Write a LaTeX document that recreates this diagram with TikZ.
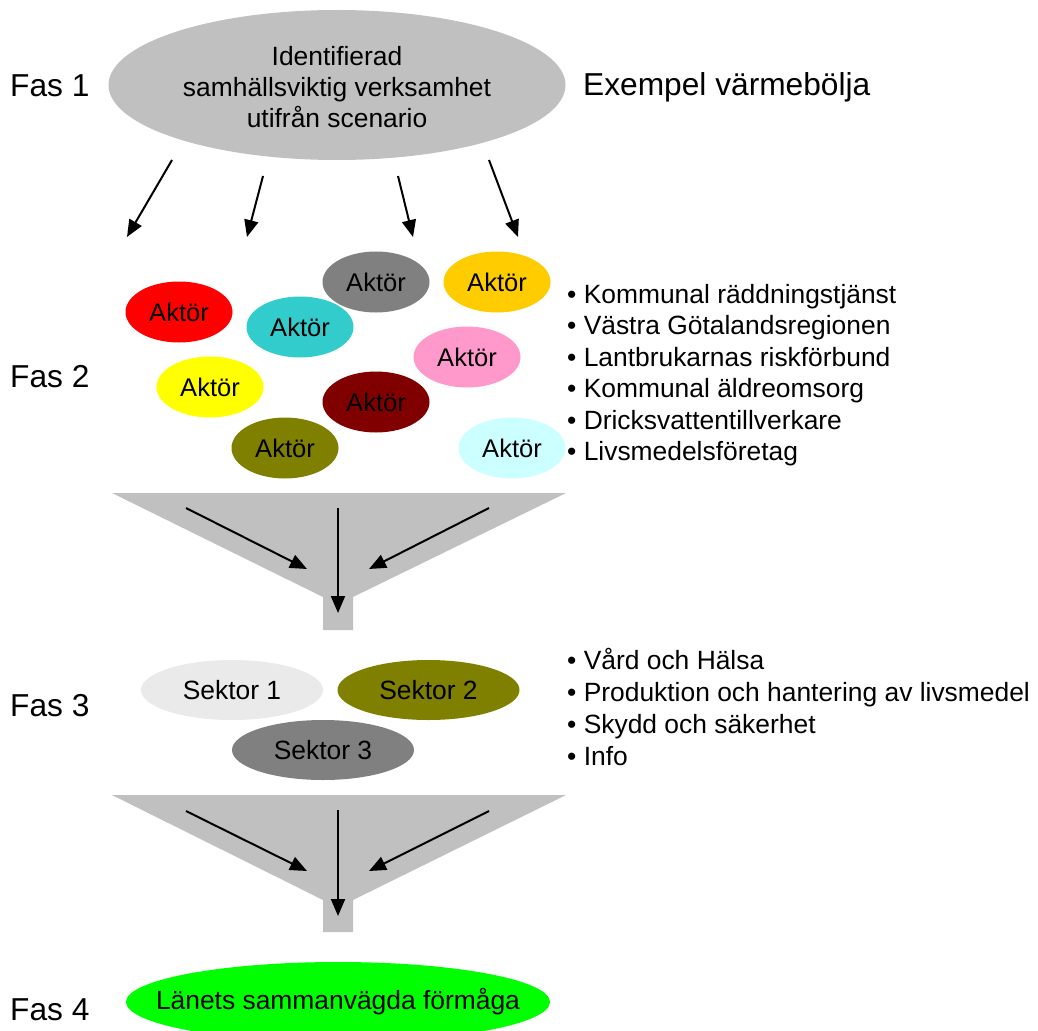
\documentclass[tikz,border=0pt]{standalone}
\usepackage{fontspec}
\setmainfont{Liberation Sans}
\usetikzlibrary{shapes.geometric,arrows.meta}
\definecolor{topgray}{HTML}{C0C0C0}
\definecolor{funnelgray}{HTML}{C0C0C0}
\definecolor{actred}{HTML}{FF0000}
\definecolor{actcyan}{HTML}{33CCCC}
\definecolor{actgray}{HTML}{808080}
\definecolor{actorange}{HTML}{FFCC00}
\definecolor{actpink}{HTML}{FF99CC}
\definecolor{actyellow}{HTML}{FFFF00}
\definecolor{actdarkred}{HTML}{800000}
\definecolor{actolive}{HTML}{808000}
\definecolor{actlightcyan}{HTML}{CCFFFF}
\definecolor{seklight}{HTML}{EAEAEA}
\definecolor{resgreen}{HTML}{00FF00}
\begin{document}
\begin{tikzpicture}[x=1pt,y=-1pt,
  bubble/.style={ellipse,inner sep=0pt,minimum width=107pt,minimum height=61pt,font=\fontsize{25.5}{30}\selectfont},
  sektor/.style={ellipse,inner sep=0pt,minimum width=182pt,minimum height=60pt,font=\fontsize{26.4}{31}\selectfont},
  arr/.style={line width=2pt,-{Triangle[length=17pt,width=14pt]}},
  faslabel/.style={anchor=base west,inner sep=0pt,font=\fontsize{31.7}{38}\selectfont},
  listline/.style={anchor=base west,inner sep=0pt,font=\fontsize{26.4}{31.5}\selectfont}]
\useasboundingbox[fill=white] (0,0) rectangle (1038,1030);

% Phase labels
\node[faslabel] (fas1) at (10,97) {Fas 1};
\node[faslabel] (fas2) at (10,387) {Fas 2};
\node[faslabel] (fas3) at (10,716) {Fas 3};
\node[faslabel] (fas4) at (10,1020) {Fas 4};
\node[faslabel] (ex) at (583,96) {Exempel värmebölja};

% Fas 1
\node[ellipse,fill=topgray,inner sep=0pt,minimum width=457pt,minimum height=150pt,
  label={[align=center,font=\fontsize{26.4}{31}\selectfont,yshift=-2pt]center:Identifierad\\samhällsviktig verksamhet\\utifrån scenario}]
  (top) at (337,85) {};

\coordinate (t1s) at (172,160); \coordinate (t1e) at (127,237);
\coordinate (t2s) at (263,176); \coordinate (t2e) at (247,237);
\coordinate (t3s) at (398,176); \coordinate (t3e) at (413,237);
\coordinate (t4s) at (489,160); \coordinate (t4e) at (518,237);
\draw[arr] (t1s) -- (t1e);
\draw[arr] (t2s) -- (t2e);
\draw[arr] (t3s) -- (t3e);
\draw[arr] (t4s) -- (t4e);

% Fas 2 actors
\node[bubble,fill=actred] (a1) at (179,312) {Aktör};
\node[bubble,fill=actcyan] (a2) at (300,327) {Aktör};
\node[bubble,fill=actgray] (a3) at (376,282) {Aktör};
\node[bubble,fill=actorange] (a4) at (497,282) {Aktör};
\node[bubble,fill=actpink] (a5) at (467,357) {Aktör};
\node[bubble,fill=actyellow] (a6) at (210,387) {Aktör};
\node[bubble,fill=actdarkred] (a7) at (376,402) {Aktör};
\node[bubble,fill=actolive] (a8) at (285,448) {Aktör};
\node[bubble,fill=actlightcyan] (a9) at (512,448) {Aktör};

\node[listline] (l1) at (567,303) {• Kommunal räddningstjänst};
\node[listline] (l2) at (567,334.5) {• Västra Götalandsregionen};
\node[listline] (l3) at (567,366) {• Lantbrukarnas riskförbund};
\node[listline] (l4) at (567,397.5) {• Kommunal äldreomsorg};
\node[listline] (l5) at (567,429) {• Dricksvattentillverkare};
\node[listline] (l6) at (567,460.5) {• Livsmedelsföretag};

% Funnel 1
\fill[funnelgray] (112,493) -- (566,493) -- (353,597) -- (353,630) -- (323,630) -- (323,597) -- cycle;
\coordinate (f1ls) at (186,508); \coordinate (f1le) at (307,569);
\coordinate (f1ms) at (338,508); \coordinate (f1me) at (338,613);
\coordinate (f1rs) at (489,508); \coordinate (f1re) at (369,569);
\draw[arr] (f1ls) -- (f1le);
\draw[arr] (f1ms) -- (f1me);
\draw[arr] (f1rs) -- (f1re);

% Fas 3 sectors
\node[sektor,fill=seklight] (s1) at (232,690) {Sektor 1};
\node[sektor,fill=actolive] (s2) at (428.5,690) {Sektor 2};
\node[sektor,fill=actgray] (s3) at (323,750) {Sektor 3};

\node[listline] (m1) at (567,669.5) {• Vård och Hälsa};
\node[listline] (m2) at (567,701.5) {• Produktion och hantering av livsmedel};
\node[listline] (m3) at (567,733.5) {• Skydd och säkerhet};
\node[listline] (m4) at (567,765.5) {• Info};

% Funnel 2
\fill[funnelgray] (112,795) -- (566,795) -- (353,900) -- (353,932) -- (323,932) -- (323,900) -- cycle;
\coordinate (f2ls) at (186,811); \coordinate (f2le) at (307,871);
\coordinate (f2ms) at (338,810); \coordinate (f2me) at (338,916);
\coordinate (f2rs) at (489,811); \coordinate (f2re) at (369,871);
\draw[arr] (f2ls) -- (f2le);
\draw[arr] (f2ms) -- (f2me);
\draw[arr] (f2rs) -- (f2re);

% Fas 4
\node[ellipse,fill=resgreen,inner sep=0pt,minimum width=424pt,minimum height=80pt,
  label={[font=\fontsize{26.4}{31}\selectfont]center:Länets sammanvägda förmåga}]
  (res) at (338,1002) {};
\end{tikzpicture}
\end{document}
